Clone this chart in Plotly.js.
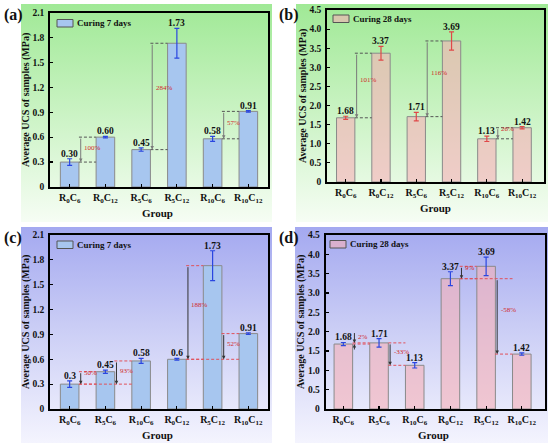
<!DOCTYPE html>
<html>
<head>
<meta charset="utf-8">
<script src="https://cdn.plot.ly/plotly-3.0.1.min.js"></script>
<style>
  html, body { margin:0; padding:0; background:#ffffff; }
  #wrap { position:relative; width:550px; height:443px; overflow:hidden; background:#fff; }
  .bg { position:absolute; }
  #bga { left:21px; top:4px; width:251px; height:218px; background:linear-gradient(to bottom, #a0e996 0%, #c6f2bf 45%, #f6fdf4 100%); }
  #bgb { left:296px; top:4px; width:252px; height:218px; background:linear-gradient(to bottom, #a0e996 0%, #c6f2bf 45%, #f6fdf4 100%); }
  #bgc { left:21px; top:227px; width:251px; height:216px; background:linear-gradient(to bottom, #a4a9f0 0%, #c9ccf5 45%, #f4f4fe 100%); }
  #bgd { left:295px; top:227px; width:253px; height:216px; background:linear-gradient(to bottom, #a4a9f0 0%, #c9ccf5 45%, #f4f4fe 100%); }
  #plot { position:absolute; left:0; top:0; width:550px; height:443px; }
</style>
</head>
<body>
<div id="wrap">
  <div class="bg" id="bga"></div>
  <div class="bg" id="bgb"></div>
  <div class="bg" id="bgc"></div>
  <div class="bg" id="bgd"></div>
  <div id="plot"></div>
</div>
<script>
// ---------- DATA ----------
const catsAB = ['R<sub>0</sub>C<sub>6</sub>','R<sub>0</sub>C<sub>12</sub>','R<sub>5</sub>C<sub>6</sub>','R<sub>5</sub>C<sub>12</sub>','R<sub>10</sub>C<sub>6</sub>','R<sub>10</sub>C<sub>12</sub>'];
const catsCD = ['R<sub>0</sub>C<sub>6</sub>','R<sub>5</sub>C<sub>6</sub>','R<sub>10</sub>C<sub>6</sub>','R<sub>0</sub>C<sub>12</sub>','R<sub>5</sub>C<sub>12</sub>','R<sub>10</sub>C<sub>12</sub>'];

const ucsA = [0.30, 0.60, 0.45, 1.73, 0.58, 0.91];
const errA = [0.04, 0.01, 0.02, 0.18, 0.03, 0.01];
const labA = ['0.30','0.60','0.45','1.73','0.58','0.91'];
const cmpA = [[0,1,'100%'],[2,3,'284%'],[4,5,'57%']];

const ucsB = [1.68, 3.37, 1.71, 3.69, 1.13, 1.42];
const errB = [0.04, 0.18, 0.11, 0.24, 0.07, 0.03];
const labB = ['1.68','3.37','1.71','3.69','1.13','1.42'];
const cmpB = [[0,1,'101%'],[2,3,'116%'],[4,5,'26%']];

const ucsC = [0.3, 0.45, 0.58, 0.6, 1.73, 0.91];
const errC = [0.04, 0.02, 0.03, 0.01, 0.18, 0.01];
const labC = ['0.3','0.45','0.58','0.6','1.73','0.91'];
const cmpC = [[0,1,'50%'],[0,2,'93%'],[3,4,'188%'],[3,5,'52%']];

const ucsD = [1.68, 1.71, 1.13, 3.37, 3.69, 1.42];
const errD = [0.04, 0.11, 0.07, 0.18, 0.24, 0.03];
const labD = ['1.68','1.71','1.13','3.37','3.69','1.42'];
const cmpD = [[0,1,'2%'],[1,2,'-33%'],[3,4,'9%'],[3,5,'-58%']];

const legendTexts = ['Curing 7 days','Curing 28 days','Curing 7 days','Curing 28 days'];
const yTicks7 = [0,0.3,0.6,0.9,1.2,1.5,1.8,2.1];
const yTickText7 = ['0','0.3','0.6','0.9','1.2','1.5','1.8','2.1'];
const yTicks28 = [0,0.5,1.0,1.5,2.0,2.5,3.0,3.5,4.0,4.5];
const yTickText28 = ['0','0.5','1.0','1.5','2.0','2.5','3.0','3.5','4.0','4.5'];

// ---------- STYLE ----------
const SERIF = 'Liberation Serif, Times New Roman, serif';
const BLUE = '#a7c6ef';
const PINK = 'rgba(245,178,184,0.62)';
const BARLINE = '#8a8a8a';
const idx = [0,1,2,3,4,5];

const panels = [
  {ax:'', vals:ucsA, err:errA, lab:labA, cmp:cmpA, cats:catsAB, fill:BLUE, ecol:'#2a46e0', dash:'#555555', vline:'#7a7a7a', ymax:2.1, ticks:yTicks7, tt:yTickText7,
   xd:[50/550, 268/550], yd:[1-187/443, 1-12.5/443], xr:[-0.55,5.55]},
  {ax:'2', vals:ucsB, err:errB, lab:labB, cmp:cmpB, cats:catsAB, fill:PINK, ecol:'#e04848', dash:'#555555', vline:'#7a7a7a', ymax:4.5, ticks:yTicks28, tt:yTickText28,
   xd:[327/550, 544/550], yd:[1-182/443, 1-10/443], xr:[-0.53,5.62]},
  {ax:'3', vals:ucsC, err:errC, lab:labC, cmp:cmpC, cats:catsCD, fill:BLUE, ecol:'#2a46e0', dash:'#e0505a', vline:'#333333', ymax:2.1, ticks:yTicks7, tt:yTickText7,
   xd:[50/550, 268/550], yd:[1-409/443, 1-235/443], xr:[-0.55,5.55]},
  {ax:'4', vals:ucsD, err:errD, lab:labD, cmp:cmpD, cats:catsCD, fill:PINK, ecol:'#2a46e0', dash:'#e0505a', vline:'#333333', ymax:4.5, ticks:yTicks28, tt:yTickText28,
   xd:[325.5/550, 545/550], yd:[1-409/443, 1-235/443], xr:[-0.5,5.65]}
];

// paper-pixel positions of decorations
const panelLetters = [['(a)',2,15],['(b)',277,15],['(c)',2,238],['(d)',277,238]];
const yTitlePos = [[26,100],[303,96],[26,322],[301,322]];
const xTitlePos = [[157,213],[435,208],[157,435],[433,435]];
const legendPos = [[57,19.5,16,7.5],[333,15,16,7.5],[57,241,16,7.5],[330,240.5,16,7.5]];

const px = v => v/550;
const py = v => 1 - v/443;

const data = [];
const shapes = [];
const annotations = [];
const layout = {
  width:550, height:443,
  margin:{l:0,r:0,t:0,b:0},
  paper_bgcolor:'rgba(0,0,0,0)',
  plot_bgcolor:'rgba(0,0,0,0)',
  showlegend:false,
  font:{family:SERIF, color:'#111'},
  shapes:shapes,
  annotations:annotations
};

panels.forEach((p, k) => {
  const xa = 'x'+p.ax, ya = 'y'+p.ax;
  data.push({
    type:'bar', x:idx, y:p.vals, width:0.52,
    xaxis:xa, yaxis:ya,
    marker:{color:p.fill, line:{color:BARLINE, width:1}},
    error_y:{type:'data', array:p.err, visible:true, color:p.ecol, thickness:1.2, width:2.5},
    hoverinfo:'skip'
  });
  layout['xaxis'+p.ax] = {
    domain:p.xd, anchor:ya, range:p.xr, tickmode:'array', tickvals:idx, ticktext:p.cats,
    ticks:'inside', ticklen:3, tickwidth:1.2, tickcolor:'#000', ticklabelstandoff:0,
    showline:true, linecolor:'#000', linewidth:1.8, mirror:true, showgrid:false, zeroline:false,
    tickfont:{family:SERIF, size:10, weight:'bold', color:'#111'}, fixedrange:true
  };
  layout['yaxis'+p.ax] = {
    domain:p.yd, anchor:xa, range:[0,p.ymax], tickmode:'array', tickvals:p.ticks, ticktext:p.tt,
    ticks:'inside', ticklen:3, tickwidth:1.2, tickcolor:'#000', ticklabelstandoff:2,
    showline:true, linecolor:'#000', linewidth:1.8, mirror:true, showgrid:false, zeroline:false,
    tickfont:{family:SERIF, size:9.5, weight:'bold', color:'#111'}, fixedrange:true
  };

  // value labels above error bars
  p.vals.forEach((v, i) => {
    annotations.push({xref:xa, yref:ya, x:i, y:v + p.err[i], text:p.lab[i], showarrow:false,
      yanchor:'bottom', yshift:-2, font:{family:SERIF, size:9.5, weight:'bold', color:'#111'}});
  });

  // comparison markers
  p.cmp.forEach(([f, t, txt]) => {
    const vx = (t-1) + 0.31;
    const vf = p.vals[f], vt = p.vals[t];
    const dashStyle = {color:p.dash, width:1, dash:'3px,2px'};
    shapes.push({type:'line', xref:xa, yref:ya, x0:f+0.26, x1:t-0.26, y0:vf, y1:vf, line:dashStyle});
    shapes.push({type:'line', xref:xa, yref:ya, x0:Math.max(f+0.26, vx-0.06), x1:t-0.26, y0:vt, y1:vt, line:dashStyle});
    const lo = Math.min(vf, vt), hi = Math.max(vf, vt);
    const gap = (hi - lo)/p.ymax;
    let ty;
    const arrowBase = {xref:xa, yref:ya, axref:xa, ayref:ya, text:'', showarrow:true, arrowhead:2,
      arrowsize:0.7, arrowwidth:1, arrowcolor:p.vline, standoff:0};
    if (gap < 0.02) {
      annotations.push(Object.assign({}, arrowBase, {x:vx, y:hi, ax:vx, ay:hi + 0.065*p.ymax}));
      annotations.push(Object.assign({}, arrowBase, {x:vx, y:lo, ax:vx, ay:lo - 0.04*p.ymax}));
      ty = hi + 0.035*p.ymax;
    } else {
      annotations.push(Object.assign({}, arrowBase, {x:vx, y:lo, ax:vx, ay:hi}));
      ty = gap < 0.1 ? hi - 0.01*p.ymax : lo + 0.58*(hi - lo);
    }
    annotations.push({xref:xa, yref:ya, x:vx + 0.04, y:ty, text:txt, showarrow:false, xanchor:'left',
      font:{family:SERIF, size:7, color:'#d0282a'}});
  });

  // legend (swatch + text)
  const [lx, ly, lw, lh] = legendPos[k];
  shapes.push({type:'rect', xref:'paper', yref:'paper', x0:px(lx), x1:px(lx+lw), y0:py(ly+lh), y1:py(ly),
    fillcolor:p.fill, line:{color:'#555', width:1}});
  annotations.push({xref:'paper', yref:'paper', x:px(lx+lw+2), y:py(ly+lh/2), text:legendTexts[k], showarrow:false,
    xanchor:'left', yanchor:'middle', font:{family:SERIF, size:9, weight:'bold', color:'#111'}});

  // axis titles
  annotations.push({xref:'paper', yref:'paper', x:px(yTitlePos[k][0]), y:py(yTitlePos[k][1]), text:'Average UCS of samples (MPa)',
    textangle:-90, showarrow:false, xanchor:'center', yanchor:'middle', font:{family:SERIF, size:10, weight:'bold', color:'#111'}});
  annotations.push({xref:'paper', yref:'paper', x:px(xTitlePos[k][0]), y:py(xTitlePos[k][1]), text:'Group',
    showarrow:false, xanchor:'center', yanchor:'middle', font:{family:SERIF, size:11, weight:'bold', color:'#111'}});

  // panel letter
  annotations.push({xref:'paper', yref:'paper', x:px(panelLetters[k][1]), y:py(panelLetters[k][2]), text:panelLetters[k][0],
    showarrow:false, xanchor:'left', yanchor:'middle', font:{family:SERIF, size:16, weight:'bold', color:'#111'}});
});

Plotly.newPlot('plot', data, layout, {staticPlot:true, displayModeBar:false});
</script>
</body>
</html>
